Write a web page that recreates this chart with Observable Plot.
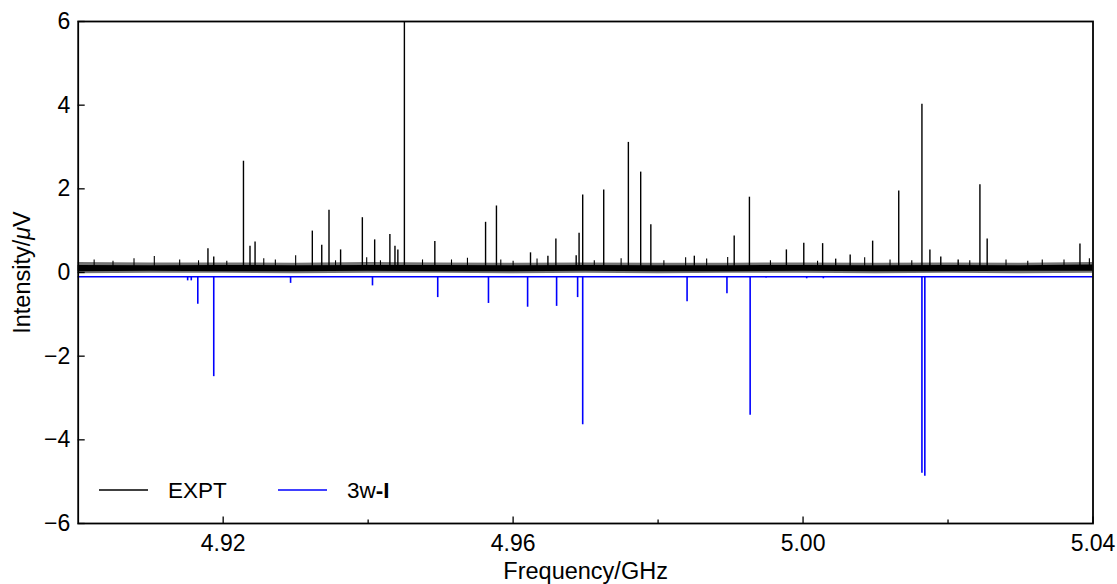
<!DOCTYPE html>
<html><head><meta charset="utf-8">
<script src="https://cdn.jsdelivr.net/npm/d3@7"></script>
<script src="https://cdn.jsdelivr.net/npm/@observablehq/plot@0.6"></script>
<style>html,body{margin:0;padding:0;background:#fff;overflow:hidden}</style>
</head><body><div id="chart"></div>
<script>
// Experimental lines (GHz, µV)
const exptFreq = [4.9179, 4.9187, 4.9228, 4.9237, 4.9244, 4.9323, 4.9336, 4.9346, 4.9362, 4.9392, 4.9409, 4.9430, 4.9437, 4.9441, 4.9450, 4.9492, 4.9562, 4.9577, 4.9624, 4.9648, 4.9659, 4.9687, 4.9691, 4.9696, 4.9725, 4.9759, 4.9776, 4.9790, 4.9850, 4.9905, 4.9926, 4.9977, 5.0001, 5.0027, 5.0045, 5.0065, 5.0096, 5.0132, 5.0164, 5.0175, 5.0190, 5.0214, 5.0244, 5.0254, 5.0382];
const exptInt  = [0.57, 0.37, 2.66, 0.63, 0.73, 0.99, 0.65, 1.49, 0.54, 1.31, 0.78, 0.91, 0.63, 0.54, 6.0, 0.74, 1.20, 1.59, 0.47, 0.39, 0.80, 0.40, 0.94, 1.85, 1.97, 3.11, 2.40, 1.14, 0.39, 0.87, 1.80, 0.54, 0.70, 0.69, 0.32, 0.42, 0.75, 1.95, 4.02, 0.54, 0.37, 0.30, 2.10, 0.80, 0.68];
// Small noise spikes above the baseline band
const spikeFreq = [4.9022, 4.9048, 4.9077, 4.9105, 4.9140, 4.9166, 4.9205, 4.9256, 4.9272, 4.9300, 4.9355, 4.9398, 4.9417, 4.9475, 4.9515, 4.9537, 4.9583, 4.9600, 4.9633, 4.9712, 4.9749, 4.9808, 4.9838, 4.9867, 4.9896, 4.9955, 5.0020, 5.0085, 5.0120, 5.0150, 5.0230, 5.0280, 5.0310, 5.0330, 5.0360, 5.0395];
const spikeInt  = [0.30, 0.27, 0.33, 0.38, 0.30, 0.28, 0.27, 0.33, 0.30, 0.40, 0.28, 0.35, 0.28, 0.30, 0.30, 0.34, 0.30, 0.27, 0.32, 0.28, 0.33, 0.28, 0.35, 0.32, 0.36, 0.28, 0.27, 0.35, 0.30, 0.28, 0.28, 0.30, 0.27, 0.30, 0.30, 0.33];
// Noise band envelope of the experimental trace
const noiseFreq   = [4.90, 4.91, 4.92, 4.93, 4.94, 4.95, 4.96, 4.97, 4.98, 4.99, 5.00, 5.01, 5.02, 5.03, 5.04];
const noiseLow    = [-0.03, -0.02, -0.02, -0.03, -0.02, -0.02, -0.03, -0.02, -0.03, -0.02, -0.02, -0.03, -0.02, -0.03, -0.02];
const noiseHigh   = [0.24, 0.23, 0.23, 0.22, 0.24, 0.23, 0.22, 0.23, 0.22, 0.22, 0.23, 0.22, 0.23, 0.22, 0.24];
const noiseCoreLo = [0.02, 0.03, 0.02, 0.02, 0.03, 0.02, 0.02, 0.03, 0.02, 0.02, 0.03, 0.02, 0.02, 0.03, 0.03];
const noiseCoreHi = [0.17, 0.16, 0.17, 0.16, 0.17, 0.17, 0.16, 0.17, 0.16, 0.16, 0.17, 0.16, 0.17, 0.16, 0.18];
// Calculated (3w-I) lines, drawn downward from an offset baseline
const calcFreq = [4.9151, 4.9156, 4.9165, 4.9187, 4.9293, 4.9406, 4.9496, 4.9566, 4.9620, 4.9660, 4.9689, 4.9696, 4.9840, 4.9895, 4.9927, 4.9949, 5.0005, 5.0028, 5.0079, 5.0164, 5.0168];
const calcInt  = [-0.20, -0.20, -0.76, -2.49, -0.26, -0.32, -0.60, -0.74, -0.83, -0.81, -0.60, -3.64, -0.70, -0.51, -3.41, -0.13, -0.15, -0.15, -0.12, -4.80, -4.87];
const exptBase = 0.09;
const calcBase = -0.1;
// Axes
const xDomain = [4.90, 5.04];
const yDomain = [-6, 6];
const yTicks = [-6, -4, -2, 0, 2, 4, 6];
const xMajorTicks = [4.92, 4.96, 5.00, 5.04];
const xMinorTicks = [4.94, 4.98, 5.02];
const xLabel = "Frequency/GHz";
const yLabel = "Intensity/μV";
const seriesNames = ["EXPT", "3w-I"];
const seriesColors = ["#000000", "#0000ff"];

const expt = exptFreq.map((f, i) => ({f, v: exptInt[i]}));
const spikes = spikeFreq.map((f, i) => ({f, v: spikeInt[i]}));
const noise = noiseFreq.map((f, i) => ({f, lo: noiseLow[i], hi: noiseHigh[i], clo: noiseCoreLo[i], chi: noiseCoreHi[i]}));
const calc = calcFreq.map((f, i) => ({f, v: calcInt[i]}));

const font = "'Liberation Sans', Arial, Helvetica, sans-serif";
const chart = Plot.plot({
  width: 1117, height: 584,
  marginLeft: 77.7, marginRight: 24.5, marginTop: 21, marginBottom: 61,
  x: {domain: xDomain},
  y: {domain: yDomain},
  style: {fontFamily: font, fontSize: "23px", color: "#000", background: "#fff"},
  marks: [
    Plot.areaY(noise, {x: "f", y1: "lo", y2: "hi", fill: seriesColors[0], fillOpacity: 0.55}),
    Plot.areaY(noise, {x: "f", y1: "clo", y2: "chi", fill: seriesColors[0], fillOpacity: 1}),
    Plot.ruleX(spikes, {x: "f", y1: exptBase, y2: "v", stroke: seriesColors[0], strokeWidth: 1.1}),
    Plot.ruleX(expt, {x: "f", y1: exptBase, y2: "v", stroke: seriesColors[0], strokeWidth: 1.4}),
    Plot.ruleY([calcBase], {x1: xDomain[0], x2: xDomain[1], stroke: seriesColors[1], strokeWidth: 1.5}),
    Plot.ruleX(calc, {x: "f", y1: calcBase, y2: "v", stroke: seriesColors[1], strokeWidth: 1.6}),
    Plot.frame({stroke: "#000", strokeWidth: 1.8}),
    Plot.axisY(yTicks, {tickSize: -7, tickPadding: 15, strokeWidth: 1.3, fontSize: 23, label: null}),
    Plot.axisX(xMajorTicks, {tickSize: -6.5, tickPadding: 17.5, strokeWidth: 1.3, fontSize: 23, tickFormat: d => d.toFixed(2), label: null}),
    Plot.axisX(xMinorTicks, {tickSize: -3.5, strokeWidth: 1.3, tickFormat: () => "", label: null}),
    Plot.text([xLabel], {text: d => d, frameAnchor: "bottom", dy: 39, lineAnchor: "top", textAnchor: "middle", fontSize: 23.5}),
    Plot.text([yLabel], {text: d => d, frameAnchor: "left", dx: -56, rotate: -90, textAnchor: "middle", lineAnchor: "middle", fontSize: 23.5})
  ]
});
document.getElementById("chart").append(chart);

// italic µ in the y label
const svg = d3.select(chart);
svg.selectAll("text").each(function() {
  const t = d3.select(this);
  if (t.text() === yLabel) {
    t.text("");
    t.append("tspan").text("Intensity/");
    t.append("tspan").attr("font-style", "italic").text("μ");
    t.append("tspan").text("V");
  }
});

// Legend inside the plot, bottom-left
const lg = svg.append("g").attr("font-family", font).attr("font-size", 22.5).attr("text-anchor", "start");
const legendY = 490;
const entries = [
  {x: 99, name: seriesNames[0], color: seriesColors[0]},
  {x: 278, name: seriesNames[1], color: seriesColors[1]}
];
entries.forEach((e, i) => {
  lg.append("line").attr("x1", e.x).attr("x2", e.x + 49).attr("y1", legendY).attr("y2", legendY)
    .attr("stroke", e.color).attr("stroke-width", 1.3);
  const t = lg.append("text").attr("x", e.x + 69).attr("y", legendY + 8.3).attr("fill", "#000");
  if (i === 1) {
    t.append("tspan").text(e.name.slice(0, 2));
    t.append("tspan").attr("font-weight", "bold").text(e.name.slice(2));
  } else {
    t.text(e.name);
  }
});
</script>
</body></html>
